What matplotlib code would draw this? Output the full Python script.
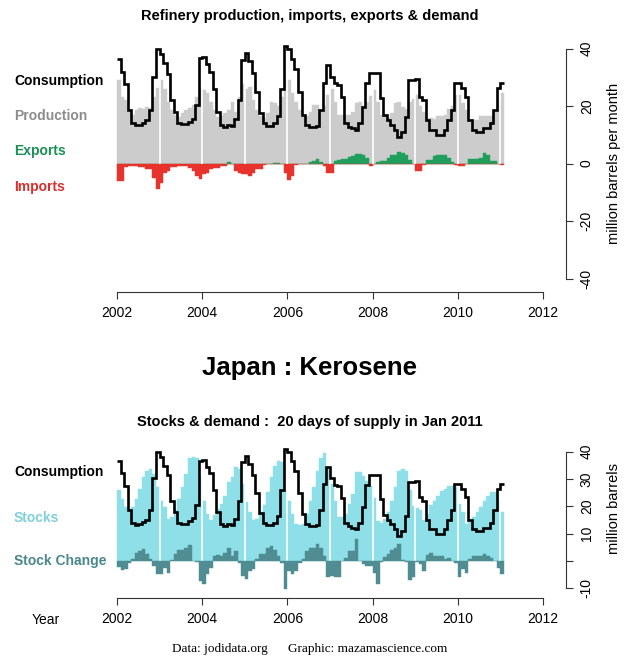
import numpy as np
import matplotlib
matplotlib.use("Agg")
import matplotlib.pyplot as plt

plt.rcParams['font.family'] = ['Liberation Sans', 'DejaVu Sans']

# monthly values, Jan 2002 .. Jan 2011, million barrels
consumption = [
    36.5, 32.0, 27.5, 18.5, 14.0, 13.3, 13.5, 14.2, 15.0, 18.6, 30.2, 40.0,
    38.0, 34.8, 31.3, 22.0, 18.0, 14.0, 13.6, 13.6, 14.5, 15.6, 20.4, 36.6,
    37.0, 34.5, 32.0, 26.0, 18.0, 13.5, 12.8, 13.5, 13.0, 15.5, 22.0, 36.0,
    38.5, 35.5, 31.5, 25.0, 17.5, 14.0, 13.0, 13.0, 14.0, 16.5, 26.0, 41.0,
    40.0, 36.5, 33.0, 25.0, 17.0, 13.5, 12.8, 12.8, 13.0, 18.5, 28.0, 34.4,
    30.2, 27.9, 27.3, 23.0, 14.0, 12.8, 12.2, 11.7, 14.0, 19.8, 27.9, 31.4,
    31.4, 31.4, 22.7, 16.9, 15.1, 13.4, 11.7, 9.3, 11.0, 16.3, 29.0, 29.0,
    29.3, 23.3, 22.0, 15.0, 11.7, 11.7, 10.0, 10.0, 11.7, 15.0, 18.6, 28.0,
    28.0, 26.2, 23.3, 15.0, 11.7, 11.1, 11.1, 12.2, 12.2, 14.0, 18.6, 26.2,
    28.0,
]
production = [
    29.0, 23.3, 22.0, 18.0, 17.0, 18.6, 19.3, 18.8, 19.8, 19.3, 23.3, 26.2,
    29.0, 26.0, 21.5, 18.6, 17.0, 16.3, 17.5, 18.6, 19.3, 20.4, 23.3, 26.2,
    25.5, 24.4, 21.5, 18.6, 16.3, 16.5, 17.5, 18.5, 21.5, 18.0, 23.0, 27.5,
    26.0, 26.5, 22.0, 18.6, 16.5, 16.0, 17.5, 21.5, 21.0, 20.0, 23.0, 29.0,
    29.0, 24.5, 21.5, 18.6, 17.0, 16.5, 18.0, 20.5, 20.5, 18.5, 20.0, 24.0,
    26.0, 21.5, 17.0, 17.0, 16.8, 16.8, 18.0, 21.0, 21.5, 20.0, 21.5, 23.5,
    25.5, 21.5, 17.0, 16.5, 16.0, 17.5, 21.0, 21.5, 19.5, 19.0, 21.5, 22.5,
    23.8, 20.0, 18.0, 15.7, 15.7, 15.5, 16.5, 16.5, 17.0, 19.0, 20.0, 23.8,
    23.8, 21.0, 18.5, 15.0, 15.0, 15.0, 16.5, 16.5, 16.5, 16.5, 18.0, 22.0,
    24.6,
]
exports = [
    0, 0, 0, 0, 0, 0, 0, 0, 0, 0, 0, 0,
    0, 0, 0, 0, 0, 0, 0, 0, 0, 0, 0, 0,
    0, 0, 0, 0, 0, 0, 0, 0.5, 0, 0, 0, 0,
    0, 0, 0, 0, 0, 0, 0, 0, 0.3, 0.3, 0, 0,
    0, 0, 0, 0, 0, 0, 0.4, 0.8, 1.4, 0.5, 0, 0,
    0, 0.8, 1.2, 1.4, 1.6, 2.2, 2.7, 3.2, 3.2, 3.0, 1.8, 0,
    0, 0.6, 0.8, 1.0, 2.0, 2.8, 3.0, 4.0, 3.8, 3.0, 1.2, 0,
    0, 0, 0, 1.2, 1.3, 2.5, 2.8, 3.1, 3.0, 2.0, 0.5, 0,
    0, 0, 0, 1.4, 1.4, 1.6, 1.8, 3.7, 2.8, 0.8, 0.8, 0,
    0,
]
imports = [
    6.1, 6.1, 1.2, 1.0, 0.7, 0.8, 1.2, 1.2, 1.9, 1.9, 5.0, 8.8,
    6.7, 3.2, 2.7, 1.2, 1.2, 0.7, 0.7, 0.7, 1.5, 2.7, 4.4, 5.3,
    3.8, 3.2, 2.0, 1.5, 1.5, 1.0, 0.8, 0, 0, 2.5, 3.2, 3.8,
    3.8, 4.4, 3.2, 2.0, 2.0, 0.4, 0, 0, 0, 0, 0, 3.2,
    5.6, 4.4, 0.5, 0.3, 0, 0, 0, 0, 0, 0, 1.0, 3.2,
    3.2, 0, 0, 0, 0, 0, 0, 0, 0, 0, 0, 1.0,
    0, 0, 0, 0, 0, 0, 0, 0, 0, 0, 0, 0,
    2.7, 2.7, 0.5, 0, 0, 0, 0, 0, 0, 0, 0, 0.6,
    1.0, 1.0, 0.3, 0, 0, 0, 0, 0, 0, 0, 0, 0,
    0.6,
]
stocks = [
    26.0, 22.7, 19.7, 19.1, 19.7, 22.7, 26.3, 30.6, 33.0, 33.6, 31.8, 27.0,
    22.1, 19.7, 15.5, 16.0, 18.5, 22.7, 26.9, 31.8, 37.8, 38.0, 37.8, 30.6,
    22.1, 17.3, 14.9, 16.7, 18.9, 20.9, 23.9, 28.7, 30.6, 34.2, 33.6, 28.1,
    21.5, 17.9, 14.9, 15.5, 17.9, 20.3, 25.1, 30.6, 34.8, 36.6, 36.0, 25.7,
    22.1, 17.3, 13.6, 13.0, 13.6, 17.3, 22.1, 26.9, 33.0, 37.8, 39.6, 33.6,
    28.1, 22.1, 16.1, 16.1, 17.3, 20.9, 24.5, 32.4, 32.4, 31.2, 29.3, 27.5,
    23.0, 14.5, 14.0, 15.5, 17.9, 22.1, 26.9, 33.0, 33.5, 33.0, 26.0, 20.0,
    19.5, 18.5, 15.0, 17.3, 20.3, 22.1, 23.9, 25.7, 26.3, 27.5, 27.5, 26.9,
    20.9, 17.9, 13.6, 14.2, 16.1, 17.9, 19.7, 22.1, 23.9, 25.1, 25.1, 22.7,
    17.9,
]
stock_change = [
    -2.0, -3.3, -3.0, -0.6, 0.6, 3.0, 3.6, 4.3, 2.4, 0.6, -1.8, -4.8,
    -4.9, -2.4, -4.2, 0.5, 2.5, 4.2, 4.2, 4.9, 6.0, 0.2, -0.2, -7.2,
    -8.5, -4.8, -2.4, 1.8, 2.2, 2.0, 3.0, 4.8, 1.9, 3.6, -0.6, -5.5,
    -6.6, -3.6, -3.0, 0.6, 2.4, 2.4, 4.8, 5.5, 4.2, 1.8, -0.6, -10.3,
    -3.6, -4.8, -3.7, -0.6, 0.6, 3.7, 4.8, 4.8, 6.1, 4.8, 1.8, -6.0,
    -5.5, -6.0, -6.0, 0.0, 1.2, 3.6, 3.6, 7.9, 0.0, -1.2, -1.9, -1.8,
    -4.5, -8.5, -0.5, 1.5, 2.4, 4.2, 4.8, 6.1, 0.5, -0.5, -7.0, -6.0,
    -0.5, -1.0, -3.5, 2.3, 3.0, 1.8, 1.8, 1.8, 0.6, 1.2, 0.0, -0.6,
    -6.0, -3.0, -4.3, 0.6, 1.9, 1.8, 1.8, 2.4, 1.8, 1.2, 0.0, -2.4,
    -4.8,
]

n = len(consumption)
t = 2002 + np.arange(n) / 12.0
edges = 2002 + np.arange(n + 1) / 12.0
years = np.arange(2003, 2012)

c_prod = '#cccccc'
c_exp = '#1f9e5c'
c_imp = '#e8322c'
c_stock = '#8fdfe8'
c_chg = '#4f8d93'

W, H = 630, 660
fig = plt.figure(figsize=(W / 100, H / 100), dpi=100)


def px(x, y):
    return x / W, 1 - y / H


def style(ax, yticks, ylabels):
    ax.spines['top'].set_visible(False)
    ax.spines['left'].set_visible(False)
    for s in ['bottom', 'right']:
        ax.spines[s].set_position(('outward', 4.3))
        ax.spines[s].set_color('#333333')
        ax.spines[s].set_linewidth(0.8)
    ax.spines['bottom'].set_bounds(2002, 2012)
    ax.spines['right'].set_bounds(yticks[0], yticks[-1])
    ax.yaxis.tick_right()
    ax.set_xticks(range(2002, 2013, 2))
    ax.set_yticks(yticks)
    ax.set_yticklabels(ylabels, rotation=90, va='center')
    ax.tick_params(length=5, width=0.8, color='#333333', labelsize=10, pad=5)
    ax.set_xlim(2002 - 17 / 42.6, 2012 + 17 / 42.6)


# --- top panel: production, imports, exports & demand
ax1 = fig.add_axes([100 / W, 1 - 286 / H, 460 / W, 246 / H])
ax1.bar(t, production, width=1 / 12, align='edge', color=c_prod,
        edgecolor=c_prod, linewidth=0.3)
ax1.bar(t, exports, width=1 / 12, align='edge', color=c_exp,
        edgecolor=c_exp, linewidth=0.3)
ax1.bar(t, -np.array(imports), width=1 / 12, align='edge', color=c_imp,
        edgecolor=c_imp, linewidth=0.3)
ax1.vlines(years, 0, 44, color='white', lw=1.2, zorder=3)
ax1.stairs(consumption, edges, baseline=None, color='black', lw=1.9, zorder=4)
ax1.set_ylim(-42.6, 42.96)
style(ax1, [-40, -20, 0, 20, 40], ['-40', '-20', '0', '20', '40'])

# --- bottom panel: stocks & demand
ax2 = fig.add_axes([100 / W, 1 - 592 / H, 460 / W, 152 / H])
ax2.bar(t, stocks, width=1 / 12, align='edge', color=c_stock,
        edgecolor=c_stock, linewidth=0.3)
ax2.vlines(years, 0, 44, color='white', lw=1.2, zorder=3)
ax2.bar(t, stock_change, width=1 / 12, align='edge', color=c_chg,
        edgecolor=c_chg, linewidth=0.3, zorder=3.5)
ax2.stairs(consumption, edges, baseline=None, color='black', lw=1.9, zorder=4)
ax2.set_ylim(-11.3, 44.2)
style(ax2, [-10, 0, 10, 20, 30, 40], ['-10', '', '10', '20', '30', '40'])

# --- texts
bold = dict(fontweight='bold')
fig.text(*px(310, 16), 'Refinery production, imports, exports & demand',
         ha='center', va='center', fontsize=10.5, **bold)
fig.text(*px(310, 368), 'Japan : Kerosene', ha='center', va='center',
         fontsize=18.5, **bold)
fig.text(*px(310, 422), 'Stocks & demand :  20 days of supply in Jan 2011',
         ha='center', va='center', fontsize=10.5, **bold)

fig.text(*px(14, 81), 'Consumption', color='black', fontsize=10, va='center', **bold)
fig.text(*px(14, 116), 'Production', color='#8c8c8c', fontsize=10, va='center', **bold)
fig.text(*px(14, 151), 'Exports', color='#1b8f55', fontsize=10, va='center', **bold)
fig.text(*px(14, 187), 'Imports', color='#d8302c', fontsize=10, va='center', **bold)

fig.text(*px(14, 472), 'Consumption', color='black', fontsize=10, va='center', **bold)
fig.text(*px(14, 518), 'Stocks', color='#7fd0da', fontsize=10, va='center', **bold)
fig.text(*px(14, 561), 'Stock Change', color='#4a878c', fontsize=10, va='center', **bold)

fig.text(*px(614, 163), 'million barrels per month', rotation=90,
         ha='center', va='center', fontsize=10.5)
fig.text(*px(614, 508), 'million barrels', rotation=90,
         ha='center', va='center', fontsize=10.5)

fig.text(*px(46, 620), 'Year', ha='center', va='center', fontsize=10)
fig.text(*px(310, 649), 'Data: jodidata.org      Graphic: mazamascience.com',
         ha='center', va='center', fontsize=9.5, family=['Liberation Serif', 'DejaVu Serif'])

fig.savefig('out.png', dpi=100)
